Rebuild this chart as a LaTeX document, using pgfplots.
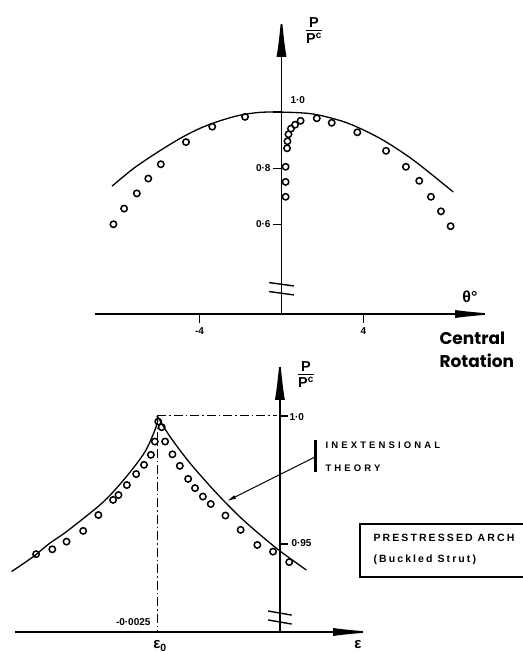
\documentclass[border=0pt]{standalone}
\usepackage{fontspec}
\setmainfont{Liberation Sans}
\newfontfamily\geo{Poppins}
\usepackage{pgfplots}
\pgfplotsset{compat=1.18}
\usetikzlibrary{arrows.meta}

\newcommand\tickfont{\bfseries\fontsize{10}{12}\selectfont}
\newcommand\capsfont{\bfseries\fontsize{9.5}{11}\selectfont\addfontfeature{LetterSpace=33}}

\pgfplotsset{
  sketch/.style={
    scale only axis, clip=false,
    axis x line=bottom, axis y line=middle,
    axis line style={line width=1.8pt},
    x axis line style={-{Latex[length=45pt,width=8pt]}},
    y axis line style={-{Latex[length=45pt,width=10pt]}},
    tick align=center, major tick length=9pt,
    every tick/.style={black, line width=1.2pt},
    ticklabel style={font=\tickfont},
  },
  curve/.style={black, line width=1.3pt, smooth, no marks},
  tests/.style={black, only marks, mark=o, mark size=3.2pt,
    mark options={line width=1.5pt}},
}

\begin{document}
\begin{tikzpicture}
\path[use as bounding box] (0,0) rectangle (522pt,652pt);

% ---------- top: central rotation
\begin{axis}[sketch,
    at={(95pt,338pt)}, anchor=south west,
    width=405pt, height=302pt,
    xmin=-9.10, xmax=10.66, ymin=0.28, ymax=1.357,
    xtick={-4,4}, xticklabels={-4,4},
    x tick style={yshift=-4.5pt},
    xticklabel style={yshift=-6pt},
    ytick={0.6,0.8,1.0}, yticklabels={0·6,0·8,{}},
    y tick style={xshift=-4pt},
    yticklabel style={xshift=-3pt},
]
\addplot[curve] coordinates {
  (-8.27,0.736) (-7.22,0.799) (-6.09,0.855) (-4.95,0.906) (-3.98,0.942)
  (-3.00,0.969) (-2.02,0.989) (-1.05,0.999) (0,1.0) (1.55,0.993)
  (3.18,0.962) (4.81,0.906) (6.43,0.829) (8.38,0.715)
};
\addplot[tests] coordinates {
  (-8.20,0.600) (-7.68,0.656) (-7.06,0.710) (-6.50,0.763) (-5.89,0.814)
  (-4.66,0.893) (-3.38,0.948) (-1.78,0.983)
  (1.72,0.978) (2.45,0.962) (3.70,0.928) (5.10,0.862) (6.07,0.805)
  (6.72,0.755) (7.29,0.698) (7.78,0.646) (8.25,0.593)
};
\addplot[tests] coordinates {
  (0.93,0.969) (0.66,0.955) (0.46,0.941) (0.34,0.921) (0.29,0.896)
  (0.27,0.871) (0.20,0.805) (0.20,0.751) (0.20,0.698)
};
% axis break
\draw[line width=1.4pt] (axis cs:-0.6,0.392) -- (axis cs:0.6,0.380);
\draw[line width=1.4pt] (axis cs:-0.6,0.360) -- (axis cs:0.6,0.348);
\end{axis}

% ---------- bottom: strain
\begin{axis}[sketch,
    at={(15pt,20pt)}, anchor=south west,
    width=363pt, height=277pt,
    xmin=-0.0054, xmax=0.0020, ymin=0.9156, ymax=1.0238,
    xtick=\empty,
    ytick={0.95,1.0}, yticklabels={{},{}},
    y tick style={xshift=4pt},
]
\addplot[curve] coordinates {
  (-0.00547,0.9392) (-0.00503,0.9450) (-0.00469,0.9503) (-0.00435,0.9548)
  (-0.00367,0.9652) (-0.00333,0.9718) (-0.00299,0.9796) (-0.00272,0.9870)
  (-0.00251,0.9965) (-0.00250,1.0)
};
\addplot[curve] coordinates {
  (-0.00250,1.0) (-0.00224,0.9919) (-0.00183,0.9815) (-0.00129,0.9698)
  (-0.00075,0.9594) (-0.00007,0.9483) (0.00054,0.9398)
};
\addplot[tests] coordinates {
  (-0.00497,0.9460) (-0.00464,0.9479) (-0.00435,0.9509) (-0.00401,0.9551)
  (-0.00370,0.9613) (-0.00340,0.9672) (-0.00329,0.9691) (-0.00312,0.9730)
  (-0.00293,0.9773) (-0.00277,0.9809) (-0.00263,0.9848) (-0.00255,0.9900)
  (-0.00248,0.9978)
};
\addplot[tests] coordinates {
  (-0.00241,0.9956) (-0.00234,0.9900) (-0.00219,0.9850) (-0.00204,0.9805)
  (-0.00187,0.9754) (-0.00173,0.9718) (-0.00157,0.9685) (-0.00141,0.9656)
  (-0.00111,0.9611) (-0.00080,0.9555) (-0.00046,0.9496) (-0.00014,0.9470)
  (0.00019,0.9429)
};
\draw[line width=0.9pt, dash pattern=on 9pt off 3pt on 1.5pt off 3pt]
  (axis cs:-0.0025,1.0) -- (axis cs:-0.00005,1.0);
\draw[line width=0.9pt, dash pattern=on 9pt off 3pt on 1.5pt off 3pt]
  (axis cs:-0.0025,1.0) -- (axis cs:-0.0025,0.9156);
% axis break
\draw[line width=1.4pt] (axis cs:-0.00024,0.9238) -- (axis cs:0.00024,0.9222);
\draw[line width=1.4pt] (axis cs:-0.00024,0.9203) -- (axis cs:0.00024,0.9187);
\end{axis}

% ---------- labels
\node[font=\bfseries\Large] at (314pt,620pt)
  {\setlength{\arrayrulewidth}{1.2pt}\begin{tabular}{@{}c@{}}P\\[-3pt]\hline P\textsuperscript{c}\end{tabular}};
\node[font=\bfseries\Large] at (306pt,276pt)
  {\setlength{\arrayrulewidth}{1.2pt}\begin{tabular}{@{}c@{}}P\\[-3pt]\hline P\textsuperscript{c}\end{tabular}};
\node[font=\tickfont, anchor=west] at (287pt,552pt) {1·0};
\node[font=\bfseries\fontsize{16}{18}\selectfont] at (470pt,355pt) {θ°};
\node[font=\geo\bfseries\fontsize{17}{20}\selectfont, anchor=west] at (436pt,314pt) {Central};
\node[font=\geo\bfseries\fontsize{17}{20}\selectfont, anchor=west] at (436pt,291pt) {Rotation};

\node[font=\tickfont, anchor=west] at (286pt,235pt) {1·0};
\node[font=\tickfont, anchor=west] at (288pt,109pt) {0·95};
\node[font=\tickfont, anchor=east] at (154pt,30pt) {-0·0025};
\node[font=\bfseries\fontsize{15}{17}\selectfont] at (160pt,6pt) {ε\textsubscript{0}};
\node[font=\bfseries\fontsize{15}{17}\selectfont] at (358pt,7pt) {ε};

\draw[line width=3pt] (315pt,212pt) -- (315pt,180pt);
\draw[line width=1pt, -{Latex[length=9pt,width=4pt]}] (315pt,195pt) -- (227pt,151pt);
\node[font=\capsfont, anchor=west] at (322pt,207pt) {INEXTENSIONAL};
\node[font=\capsfont, anchor=west] at (322pt,184pt) {THEORY};

\draw[line width=1.5pt] (360pt,128pt) rectangle (530pt,75pt);
\node[font=\bfseries\fontsize{10.5}{12}\selectfont\addfontfeature{LetterSpace=20}, anchor=west] at (370pt,114pt) {PRESTRESSED ARCH};
\node[font=\bfseries\fontsize{10.5}{12}\selectfont\addfontfeature{LetterSpace=20}, anchor=west] at (370pt,92pt) {(Buckled Strut)};
\end{tikzpicture}
\end{document}
